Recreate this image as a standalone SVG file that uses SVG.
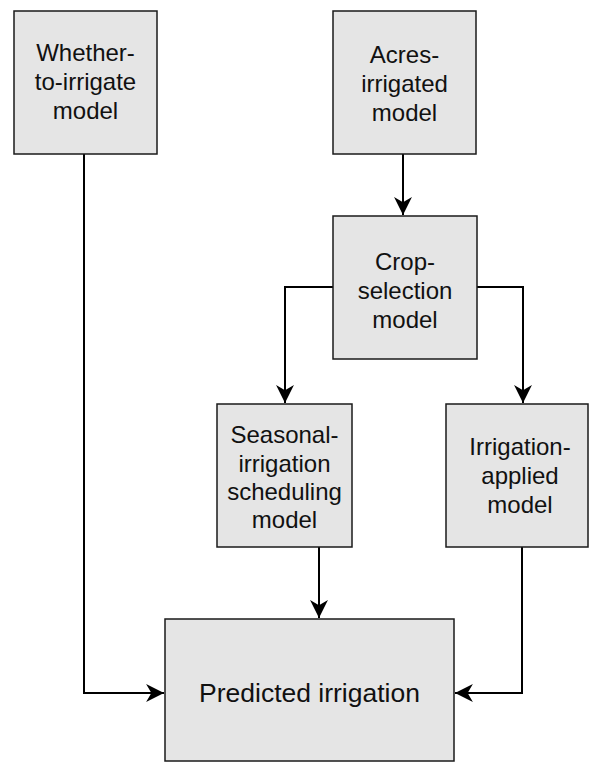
<svg xmlns="http://www.w3.org/2000/svg" width="590" height="762" viewBox="0 0 590 762">
<defs>
<style>
.box{fill:#e5e5e5;stroke:#1a1a1a;stroke-width:1.5}
.lbl{font-family:"Liberation Sans",Arial,sans-serif;font-size:24px;fill:#111;text-anchor:middle}
.big{font-size:26.5px}
.con{fill:none;stroke:#000;stroke-width:2}
</style>
<marker id="arr" markerUnits="userSpaceOnUse" markerWidth="20" markerHeight="20" viewBox="-18 -9 19 18" refX="0" refY="0" orient="auto">
<path d="M0,0 L-17,-8.5 L-12,0 L-17,8.5 Z" fill="#000"/>
</marker>
</defs>
<rect width="590" height="762" fill="#fff"/>
<g id="connectors">
<path class="con" d="M403,154 V215" marker-end="url(#arr)"/>
<path class="con" d="M333,287 H285 V403" marker-end="url(#arr)"/>
<path class="con" d="M477,287 H523 V403" marker-end="url(#arr)"/>
<path class="con" d="M319,547 V618" marker-end="url(#arr)"/>
<path class="con" d="M84,154 V693 H164" marker-end="url(#arr)"/>
<path class="con" d="M522,547 V693 H455" marker-end="url(#arr)"/>
</g>
<g id="whether">
<rect class="box" x="14" y="11" width="143" height="143"/>
<text class="lbl" x="85.5" y="61">Whether-</text>
<text class="lbl" x="85.5" y="90">to-irrigate</text>
<text class="lbl" x="85.5" y="119">model</text>
</g>
<g id="acres">
<rect class="box" x="333" y="11" width="143" height="143"/>
<text class="lbl" x="404.5" y="63">Acres-</text>
<text class="lbl" x="404.5" y="92">irrigated</text>
<text class="lbl" x="404.5" y="121">model</text>
</g>
<g id="crop">
<rect class="box" x="333" y="216" width="144" height="143"/>
<text class="lbl" x="405" y="270">Crop-</text>
<text class="lbl" x="405" y="299">selection</text>
<text class="lbl" x="405" y="328">model</text>
</g>
<g id="seasonal">
<rect class="box" x="217" y="404" width="135" height="143"/>
<text class="lbl" x="284.5" y="443">Seasonal-</text>
<text class="lbl" x="284.5" y="472">irrigation</text>
<text class="lbl" x="284.5" y="500">scheduling</text>
<text class="lbl" x="284.5" y="528">model</text>
</g>
<g id="applied">
<rect class="box" x="446" y="404" width="142" height="143"/>
<text class="lbl" x="520" y="455">Irrigation-</text>
<text class="lbl" x="520" y="484">applied</text>
<text class="lbl" x="520" y="513">model</text>
</g>
<g id="predicted">
<rect class="box" x="165" y="619" width="289" height="142"/>
<text class="lbl big" x="309.5" y="702">Predicted irrigation</text>
</g>
</svg>
